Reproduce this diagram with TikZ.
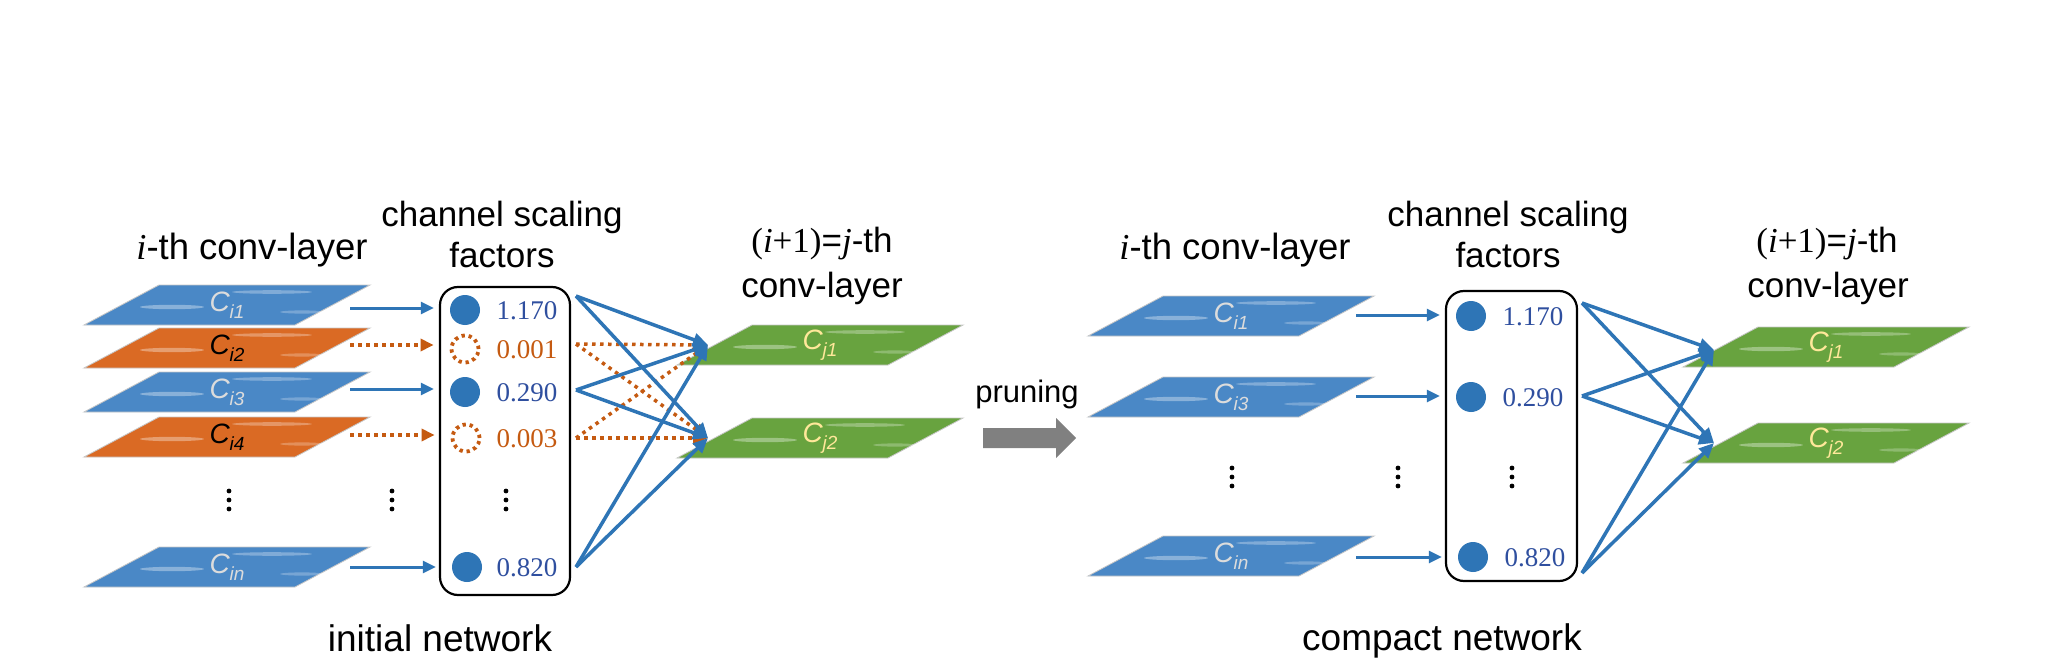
\documentclass[tikz,border=0pt]{standalone}
\usepackage{fontspec}
\setmainfont{Liberation Sans}
\newfontfamily\tms{Liberation Serif}
\usetikzlibrary{arrows.meta}
\definecolor{cblue}{HTML}{2E75B6}
\definecolor{pblue}{HTML}{4A88C6}
\definecolor{porange}{HTML}{DA6A24}
\definecolor{corange}{HTML}{C55A11}
\definecolor{pgreen}{HTML}{68A33F}
\definecolor{nblue}{HTML}{2F4F9F}
\definecolor{cgray}{HTML}{808080}
\definecolor{lgray}{HTML}{DCDCDC}
\definecolor{lyellow}{HTML}{FFE89A}
\newcommand{\clab}[1]{\textit{C}\kern-0.5pt\raisebox{-7pt}{\fontsize{19}{19}\selectfont\textit{#1}}}
\newcommand{\mkplane}[6]{%
  \fill[#4, draw=black!22, line width=0.8pt] (#2-143,#3+20) -- (#2+68,#3+20) -- (#2+143,#3-20) -- (#2-68,#3-20) -- cycle;
  \fill[white,opacity=.35] (#2-55,#3+2) ellipse (32pt and 2.2pt);
  \fill[white,opacity=.3] (#2+45,#3-13) ellipse (40pt and 1.8pt);
  \fill[white,opacity=.25] (#2+75,#3+7) ellipse (22pt and 1.6pt);
  \node[planelab, text=#5] (#1) at (#2,#3) {\clab{#6}};
}
\newcommand{\vd}[2]{\fill (#1,#2-9) circle (2.4pt); \fill (#1,#2) circle (2.4pt); \fill (#1,#2+9) circle (2.4pt);}
\tikzset{
 planelab/.style={font=\fontsize{28}{28}\selectfont, inner sep=0pt},
 head/.style={font=\fontsize{35}{40}\selectfont, anchor=base, inner sep=0pt},
 numb/.style={font=\tms\fontsize{27}{27}\selectfont, inner sep=0pt},
 onc/.style={circle, fill=cblue, minimum size=30pt, inner sep=0pt},
 offc/.style={circle, draw=corange, line width=3.8pt, dash pattern=on 3.3pt off 3.8pt, minimum size=27pt, inner sep=0pt},
 inarr/.style={draw=cblue, line width=3pt, -{Triangle[length=13pt,width=12pt]}, shorten >=16pt},
 inarro/.style={draw=corange, line width=3.5pt, dash pattern=on 3.5pt off 4.5pt, -{Triangle[length=13pt,width=12pt]}, shorten >=16pt},
 outarr/.style={draw=cblue, line width=3.5pt, -{Triangle[length=15pt,width=13pt]}},
 outarro/.style={draw=corange, line width=3.5pt, dash pattern=on 3.5pt off 4.5pt, -{Triangle[length=15pt,width=13pt]}},
 fbox/.style={draw=black, line width=2.2pt, rounded corners=18pt, inner sep=0pt},
}
\begin{document}
\begin{tikzpicture}[x=1pt,y=-1pt]
\useasboundingbox[fill=white] (0,0) rectangle (2067,671);
% ---------------- left: initial network ----------------
\mkplane{pi1}{227}{305}{pblue}{lgray}{i1}
\mkplane{pi2}{227}{348}{porange}{black}{i2}
\mkplane{pi3}{227}{392}{pblue}{lgray}{i3}
\mkplane{pi4}{227}{437}{porange}{black}{i4}
\mkplane{pin}{227}{567}{pblue}{lgray}{in}
\vd{229}{500}
\vd{392}{500}
\node[fbox, minimum width=130pt, minimum height=308pt] (bL) at (505,441) {};
\node[onc] (c1) at (465,310) {};
\node[offc] (c2) at (465,349) {};
\node[onc] (c3) at (465,392) {};
\node[offc] (c4) at (466,438) {};
\node[onc] (cn) at (467,567) {};
\node[numb, text=nblue] (n1) at (527,311) {1.170};
\node[numb, text=corange] (n2) at (527,350) {0.001};
\node[numb, text=nblue] (n3) at (527,393) {0.290};
\node[numb, text=corange] (n4) at (527,439) {0.003};
\node[numb, text=nblue] (nn) at (527,568) {0.820};
\vd{506}{500}
\coordinate (s1) at (350,308);
\coordinate (s2) at (350,345);
\coordinate (s3) at (350,389);
\coordinate (s4) at (350,435);
\coordinate (sn) at (350,567);
\draw[inarr] (s1) -- (s1 -| c1.west);
\draw[inarro] (s2) -- (s2 -| c2.west);
\draw[inarr] (s3) -- (s3 -| c3.west);
\draw[inarro] (s4) -- (s4 -| c4.west);
\draw[inarr] (sn) -- (sn -| cn.west);
\mkplane{pj1}{820}{345}{pgreen}{lyellow}{j1}
\mkplane{pj2}{820}{438}{pgreen}{lyellow}{j2}
\coordinate (o1) at (576,296);
\coordinate (o2) at (576,344);
\coordinate (o3) at (576,390);
\coordinate (o4) at (576,438);
\coordinate (on) at (576,567);
\coordinate (t1) at (708,345);
\coordinate (t2) at (708,438);
\draw[outarro] (o2) -- (t1);
\draw[outarro] (o2) -- (t2);
\draw[outarro] (o4) -- (t1);
\draw[outarro] (o4) -- (t2);
\draw[outarr] (o1) -- (t1);
\draw[outarr] (o1) -- (t2);
\draw[outarr] (o3) -- (t1);
\draw[outarr] (o3) -- (t2);
\draw[outarr] (on) -- (t1);
\draw[outarr] (on) -- (t2);
\node[head, font=\fontsize{36.5}{40}\selectfont] (hL1) at (252,259) {{\tms\itshape i}-th conv-layer};
\node[head] (hL2) at (502,226) {channel scaling};
\node[head] (hL3) at (502,267) {factors};
\node[head] (hL4) at (822,253) {{\tms(\textit{i}+1)}={\tms\textit{j}}-th};
\node[head] (hL5) at (822,297) {conv-layer};
\node[head, font=\fontsize{37}{40}\selectfont] (capL) at (440,651) {initial network};
% ---------------- pruning arrow ----------------
\node[anchor=base, inner sep=0pt, font=\fontsize{31}{34}\selectfont] (pr) at (1027,402) {pruning};
\fill[cgray] (983,428) -- (1056,428) -- (1056,418) -- (1076,438) -- (1056,458) -- (1056,448) -- (983,448) -- cycle;
% ---------------- right: compact network ----------------
\mkplane{qi1}{1231}{316}{pblue}{lgray}{i1}
\mkplane{qi3}{1231}{397}{pblue}{lgray}{i3}
\mkplane{qin}{1231}{556}{pblue}{lgray}{in}
\vd{1232}{477}
\vd{1398}{477}
\node[fbox, minimum width=131pt, minimum height=290pt] (bR) at (1511.5,436) {};
\node[onc] (d1) at (1471,316) {};
\node[onc] (d3) at (1471,397) {};
\node[onc] (dn) at (1473,557) {};
\node[numb, text=nblue] (m1) at (1533,317) {1.170};
\node[numb, text=nblue] (m3) at (1533,398) {0.290};
\node[numb, text=nblue] (mn) at (1535,558) {0.820};
\vd{1512}{477}
\coordinate (r1) at (1356,315);
\coordinate (r3) at (1356,396);
\coordinate (rn) at (1356,557);
\draw[inarr] (r1) -- (r1 -| d1.west);
\draw[inarr] (r3) -- (r3 -| d3.west);
\draw[inarr] (rn) -- (rn -| dn.west);
\mkplane{qj1}{1826}{347}{pgreen}{lyellow}{j1}
\mkplane{qj2}{1826}{443}{pgreen}{lyellow}{j2}
\coordinate (u1) at (1582,303);
\coordinate (u3) at (1582,396);
\coordinate (un) at (1582,573);
\coordinate (v1) at (1714,350);
\coordinate (v2) at (1714,443);
\draw[outarr] (u1) -- (v1);
\draw[outarr] (u1) -- (v2);
\draw[outarr] (u3) -- (v1);
\draw[outarr] (u3) -- (v2);
\draw[outarr] (un) -- (v1);
\draw[outarr] (un) -- (v2);
\node[head, font=\fontsize{36.5}{40}\selectfont] (hR1) at (1235,259) {{\tms\itshape i}-th conv-layer};
\node[head] (hR2) at (1508,226) {channel scaling};
\node[head] (hR3) at (1508,267) {factors};
\node[head] (hR4) at (1827,253) {{\tms(\textit{i}+1)}={\tms\textit{j}}-th};
\node[head] (hR5) at (1828,297) {conv-layer};
\node[head, font=\fontsize{37}{40}\selectfont] (capR) at (1442,650) {compact network};
\end{tikzpicture}
\end{document}
